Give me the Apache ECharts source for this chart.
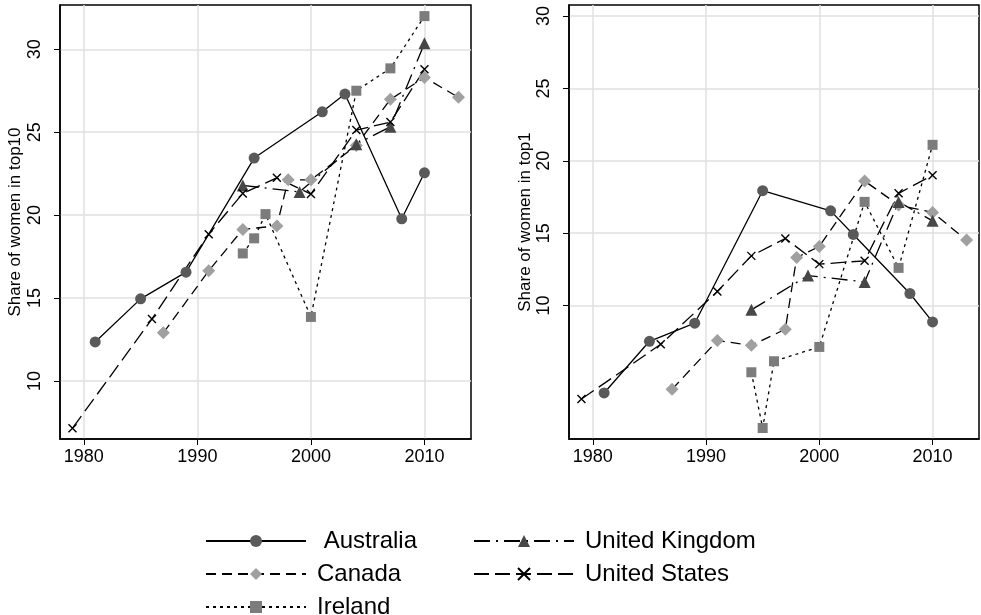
<!DOCTYPE html>
<html>
<head>
<meta charset="utf-8">
<script src="https://cdn.jsdelivr.net/npm/echarts@6/dist/echarts.min.js"></script>
<style>html,body{margin:0;padding:0;background:#fff}#c{width:981px;height:615px}</style>
</head>
<body>
<div id="c"></div>
<script>
// ---- data ----
var countries = ['Australia', 'Canada', 'Ireland', 'United Kingdom', 'United States'];
var yearsAUS = [1981, 1985, 1989, 1995, 2001, 2003, 2008, 2010];
var yearsCAN = [1987, 1991, 1994, 1997, 1998, 2000, 2004, 2007, 2010, 2013];
var yearsIRL = [1994, 1995, 1996, 2000, 2004, 2007, 2010];
var yearsUK  = [1994, 1999, 2004, 2007, 2010];
var yearsUS  = [1979, 1986, 1991, 1994, 1997, 2000, 2004, 2007, 2010];

var top10AUS = [12.35, 14.95, 16.56, 23.44, 26.23, 27.3, 19.78, 22.55];
var top10CAN = [12.9, 16.64, 19.14, 19.35, 22.13, 22.13, 24.2, 26.98, 28.3, 27.1];
var top10IRL = [17.69, 18.6, 20.06, 13.86, 27.5, 28.85, 32.0];
var top10UK  = [21.79, 21.4, 24.28, 25.33, 30.36];
var top10US  = [7.15, 13.74, 18.85, 21.31, 22.25, 21.27, 25.13, 25.61, 28.79];

var top1AUS = [3.96, 7.53, 8.78, 17.93, 16.54, 14.91, 10.83, 8.87];
var top1CAN = [4.21, 7.58, 7.25, 8.36, 13.32, 14.08, 18.6, 16.94, 16.43, 14.52];
var top1IRL = [5.39, 1.54, 6.15, 7.14, 17.16, 12.6, 21.1];
var top1UK  = [9.7, 12.07, 11.63, 17.16, 15.85];
var top1US  = [3.54, 7.32, 10.97, 13.43, 14.63, 12.86, 13.09, 17.75, 19.0];

var xTicks = [1980, 1990, 2000, 2010];
var yTicks = [10, 15, 20, 25, 30];
var yNames = ['Share of women in top10', 'Share of women in top1'];

// ---- build ----
function pairs(xs, ys) { return xs.map(function (x, i) { return [x, ys[i]]; }); }

var FONT = '"Liberation Sans", Arial, Helvetica, sans-serif';
var styles = {
  'Australia':      { symbol: 'circle', size: 11, color: '#5a5a5a', dash: 'solid' },
  'Canada':         { symbol: 'diamond', size: 13, color: '#a0a0a0', dash: [10, 6] },
  'Ireland':        { symbol: 'rect', size: 10, color: '#7c7c7c', dash: [3, 4] },
  'United Kingdom': { symbol: 'triangle', size: 12, color: '#474747', dash: [16, 6, 2, 6] },
  'United States':  { symbol: 'path://M0,0L10,10M10,0L0,10', size: 8, color: '#000', dash: [15, 6] }
};
var panelData = [
  [pairs(yearsAUS, top10AUS), pairs(yearsCAN, top10CAN), pairs(yearsIRL, top10IRL), pairs(yearsUK, top10UK), pairs(yearsUS, top10US)],
  [pairs(yearsAUS, top1AUS), pairs(yearsCAN, top1CAN), pairs(yearsIRL, top1IRL), pairs(yearsUK, top1UK), pairs(yearsUS, top1US)]
];

var series = [];
for (var p = 0; p < 2; p++) {
  countries.forEach(function (name, i) {
    var s = styles[name];
    var isX = name === 'United States';
    series.push({
      type: 'line', name: name, xAxisIndex: p, yAxisIndex: p,
      data: panelData[p][i],
      symbol: s.symbol, symbolSize: s.size, showSymbol: true,
      lineStyle: { color: '#000', width: 1.3, type: s.dash },
      itemStyle: isX ? { color: '#000', borderColor: '#000', borderWidth: 1.4 } : { color: s.color, borderWidth: 0 },
      emphasis: { disabled: true },
      animation: false
    });
  });
}

function xAxis(gi) {
  return {
    type: 'value', gridIndex: gi, min: 1977.9, max: 2014.1,
    axisLine: { show: true, onZero: false, lineStyle: { color: '#000', width: 1.5 } },
    axisTick: { show: true, length: 6, customValues: xTicks, lineStyle: { color: '#000', width: 1 } },
    axisLabel: { customValues: xTicks, color: '#000', fontSize: 18, fontFamily: FONT, margin: 9,
      formatter: function (v) { return String(Math.round(v)); } },
    splitLine: { show: true, lineStyle: { color: '#e0e0e0', width: 1.5 } }
  };
}
function yAxis(gi, min, max, gap) {
  return {
    type: 'value', gridIndex: gi, min: min, max: max,
    name: yNames[gi], nameLocation: 'middle', nameRotate: 90, nameGap: gap,
    nameTextStyle: { color: '#000', fontSize: 17, fontFamily: FONT },
    axisLine: { show: true, onZero: false, lineStyle: { color: '#000', width: 1.5 } },
    axisTick: { show: true, length: 6, customValues: yTicks, lineStyle: { color: '#000', width: 1 } },
    axisLabel: { customValues: yTicks, rotate: 90, color: '#000', fontSize: 18, fontFamily: FONT, margin: 16,
      formatter: function (v) { return String(Math.round(v)); } },
    splitLine: { show: true, lineStyle: { color: '#e0e0e0', width: 1.5 } }
  };
}

function legend(names, left) {
  return {
    data: names, orient: 'vertical', left: left, top: 523, height: 130,
    itemWidth: 100, itemHeight: 15, itemGap: 7,
    formatter: function (n) { return n === 'Australia' ? ' ' + n : n; },
    textStyle: { color: '#000', fontSize: 24, fontFamily: FONT, lineHeight: 26, padding: [0, 0, 0, 6] },
    selectedMode: false
  };
}

var option = {
  backgroundColor: '#fff',
  animation: false,
  grid: [
    { left: 60, top: 5, width: 411, height: 434, show: true, borderColor: '#000', borderWidth: 1.5, containLabel: false },
    { left: 569, top: 5, width: 410, height: 434, show: true, borderColor: '#000', borderWidth: 1.5, containLabel: false }
  ],
  xAxis: [xAxis(0), xAxis(1)],
  yAxis: [yAxis(0, 6.5, 32.67, 36), yAxis(1, 0.78, 30.76, 35)],
  legend: [legend(countries.slice(0, 3), 200), legend(countries.slice(3), 468)],
  series: series
};

var chart = echarts.init(document.getElementById('c'), null, { renderer: 'canvas' });
chart.setOption(option);
</script>
</body>
</html>
